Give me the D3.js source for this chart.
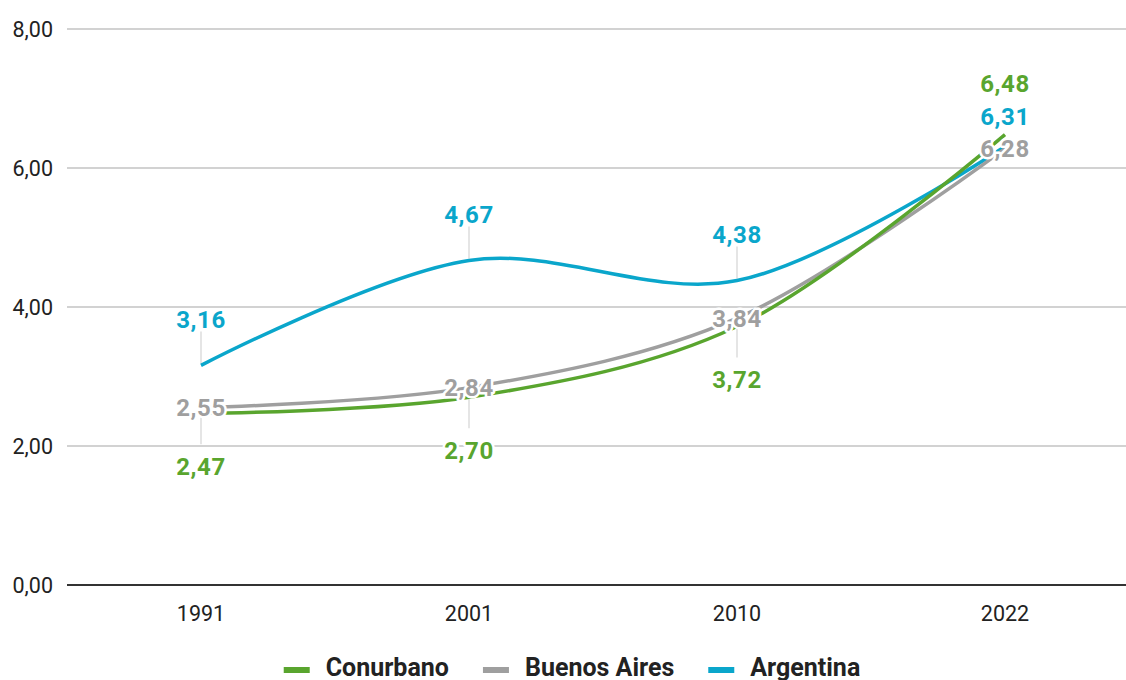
<!DOCTYPE html>
<html>
<head>
<meta charset="utf-8">
<script src="https://cdn.jsdelivr.net/npm/d3@7"></script>
<style>
  body { margin: 0; background: #fff; }
  svg { display: block; font-family: Roboto, "Noto Sans", sans-serif; }
</style>
</head>
<body>
<svg id="chart"></svg>
<script>
const years = ["1991", "2001", "2010", "2022"];
const conurbano = [2.47, 2.70, 3.72, 6.48];
const buenosAires = [2.55, 2.84, 3.84, 6.28];
const argentina = [3.16, 4.67, 4.38, 6.31];
const yTicks = [0, 2, 4, 6, 8];
const seriesNames = ["Conurbano", "Buenos Aires", "Argentina"];
const seriesColors = ["#59a52e", "#9f9f9f", "#0aa6cb"];

const width = 1126, height = 680;
const margin = {top: 29, left: 67, bottom: 95};

const svg = d3.select("#chart").attr("width", width).attr("height", height);

const x = d3.scalePoint().domain(years).range([margin.left, margin.left + 268 * 4]).padding(0.5);
const y = d3.scaleLinear().domain([0, 8]).range([height - margin.bottom, margin.top]);

const fmt = v => d3.format(".2f")(v).replace(".", ",");

// grid
svg.append("g").selectAll("line")
  .data(yTicks.filter(d => d > 0))
  .join("line")
  .attr("x1", margin.left).attr("x2", width)
  .attr("y1", d => y(d)).attr("y2", d => y(d))
  .attr("stroke", "#d2d2d2").attr("stroke-width", 2);

svg.append("line")
  .attr("x1", margin.left).attr("x2", width)
  .attr("y1", y(0)).attr("y2", y(0))
  .attr("stroke", "#333").attr("stroke-width", 2);

// y labels
svg.append("g").selectAll("text")
  .data(yTicks)
  .join("text")
  .attr("x", 53).attr("y", d => y(d)).attr("dy", "0.35em")
  .attr("text-anchor", "end")
  .attr("font-size", 21.5).attr("fill", "#222")
  .text(fmt);

// x labels
svg.append("g").selectAll("text")
  .data(years)
  .join("text")
  .attr("x", d => x(d)).attr("y", y(0) + 28).attr("dy", "0.35em")
  .attr("text-anchor", "middle")
  .attr("font-size", 21.5).attr("fill", "#222")
  .text(d => d);

const series = [
  {name: seriesNames[0], color: seriesColors[0], values: conurbano},
  {name: seriesNames[1], color: seriesColors[1], values: buenosAires},
  {name: seriesNames[2], color: seriesColors[2], values: argentina}
];

// label placement: gray on the point, blue above, green below (stacked above at last year)
const labels = [];
years.forEach((yr, i) => {
  const px = x(yr);
  const last = i === years.length - 1;
  const pb = y(buenosAires[i]), pa = y(argentina[i]), pc = y(conurbano[i]);
  labels.push({x: px, ly: pb, py: pb, v: buenosAires[i], c: seriesColors[1], conn: false});
  if (last) {
    labels.push({x: px, ly: pb - 32, py: pa, v: argentina[i], c: seriesColors[2], conn: false});
    labels.push({x: px, ly: pb - 65, py: pc, v: conurbano[i], c: seriesColors[0], conn: false});
  } else {
    labels.push({x: px, ly: pa - 46, py: pa, v: argentina[i], c: seriesColors[2], conn: true, up: true});
    labels.push({x: px, ly: pc + 53, py: pc, v: conurbano[i], c: seriesColors[0], conn: true, up: false});
  }
});

// connectors
svg.append("g").selectAll("line")
  .data(labels.filter(d => d.conn))
  .join("line")
  .attr("x1", d => d.x).attr("x2", d => d.x)
  .attr("y1", d => d.up ? d.ly + 12 : d.py + 2)
  .attr("y2", d => d.up ? d.py - 2 : d.ly - 22)
  .attr("stroke", "#dcdcdc").attr("stroke-width", 1.5);

// lines
const line = d3.line()
  .x((d, i) => x(years[i]))
  .y(d => y(d))
  .curve(d3.curveCatmullRom);

svg.append("g").selectAll("path")
  .data(series.slice().reverse())
  .join("path")
  .attr("d", d => line(d.values))
  .attr("fill", "none")
  .attr("stroke", d => d.color)
  .attr("stroke-width", 3.5)
  .attr("stroke-linecap", "butt");

// value labels with white halo
svg.append("g").selectAll("text")
  .data(labels)
  .join("text")
  .attr("x", d => d.x).attr("y", d => d.ly).attr("dy", "0.35em")
  .attr("text-anchor", "middle")
  .attr("font-size", 24).attr("font-weight", 700)
  .attr("letter-spacing", 0.6)
  .attr("fill", d => d.c)
  .attr("stroke", "#fff").attr("stroke-width", 5)
  .attr("stroke-linejoin", "round")
  .attr("paint-order", "stroke")
  .text(d => fmt(d.v));

// legend
const legend = svg.append("g");
let lx = 0;
series.forEach(s => {
  const g = legend.append("g").attr("transform", `translate(${lx},0)`);
  g.append("rect").attr("x", 0).attr("y", -9).attr("width", 26).attr("height", 6).attr("fill", s.color);
  const t = g.append("text").attr("x", 42).attr("y", 0)
    .attr("font-size", 25).attr("font-weight", 700).attr("fill", "#222")
    .text(s.name);
  lx += 42 + t.node().getComputedTextLength() + 34;
});
const legW = lx - 34;
legend.attr("transform", `translate(${572 - legW / 2},676)`);
</script>
</body>
</html>
